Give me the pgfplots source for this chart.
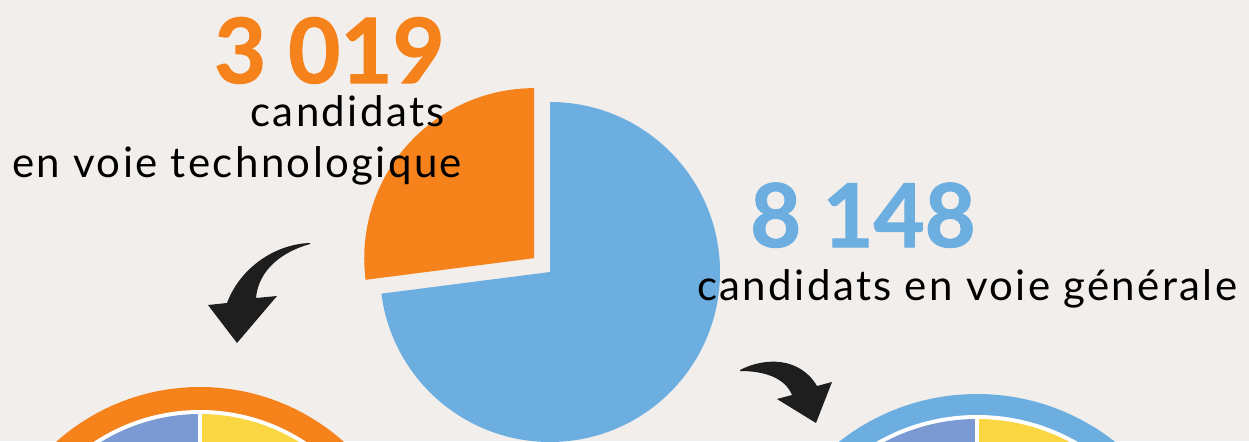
\documentclass[border=0pt]{standalone}
\usepackage{pgfplots}
\pgfplotsset{compat=1.18}
\usepackage{pgfplotstable}
\usepackage{fontspec}
\setmainfont{Lato}
\newfontfamily\txtfont[LetterSpace=5.7]{Lato}
\newfontfamily\numfont[FakeBold=1.2]{Lato Bold}
\definecolor{bg}{HTML}{F1EEEB}
\definecolor{corange}{HTML}{F6821B}
\definecolor{cblue}{HTML}{6CAEE0}
\definecolor{cpurple}{HTML}{7B9AD3}
\definecolor{cyellow}{HTML}{FAD642}
\definecolor{carrow}{HTML}{1E1E1E}
\begin{document}
\begin{tikzpicture}
\pgfplotstableread{
voie valeur
technologique 3019
generale 8148
}\candidats
\pgfplotstablegetelem{0}{valeur}\of\candidats \edef\vtech{\pgfplotsretval}%
\pgfplotstablegetelem{1}{valeur}\of\candidats \edef\vgen{\pgfplotsretval}%
\pgfmathsetmacro\frac{\vtech/(\vtech+\vgen)}%
\pgfmathsetmacro\atech{360*\frac}%
\pgfmathsetmacro\aend{90+\atech}%
\pgfmathsetmacro\aendb{\aend-360}%
\pgfmathsetmacro\amid{90+\atech/2}%
\begin{axis}[
  width=1249bp, height=441bp, scale only axis,
  xmin=0, xmax=1249, ymin=0, ymax=441, y dir=reverse,
  hide axis, clip=true,
]
\fill[bg] (axis cs:0,0) rectangle (axis cs:1249,441);
% main pie
\fill[cblue] (axis cs:550,272) -- ++(90:170bp) arc[start angle=90, end angle=\aendb, radius=170bp] -- cycle;
\fill[corange] ([shift={(\amid:21bp)}]axis cs:550,272) -- ++(90:170bp) arc[start angle=90, end angle=\aend, radius=170bp] -- cycle;
% bottom left donut
\fill[corange] (axis cs:200,603) circle[radius=216bp];
\fill[white] (axis cs:200,603) circle[radius=193bp];
\fill[cpurple] (axis cs:200,603) -- ++(90:189bp) arc[start angle=90, end angle=200, radius=189bp] -- cycle;
\fill[cyellow] (axis cs:200,603) -- ++(90:189bp) arc[start angle=90, end angle=-20, radius=189bp] -- cycle;
\draw[white, line width=4bp] (axis cs:200,603) -- ++(90:193bp);
% bottom right donut
\fill[cblue] (axis cs:977,617) circle[radius=223bp];
\fill[white] (axis cs:977,617) circle[radius=202bp];
\fill[cpurple] (axis cs:977,617) -- ++(90:198bp) arc[start angle=90, end angle=200, radius=198bp] -- cycle;
\fill[cyellow] (axis cs:977,617) -- ++(90:198bp) arc[start angle=90, end angle=-20, radius=198bp] -- cycle;
\draw[white, line width=4bp] (axis cs:977,617) -- ++(90:202bp);
% arrows
\fill[carrow] (axis cs:310,243) .. controls (axis cs:275,244) and (axis cs:240,268) .. (axis cs:227,303)
  -- (axis cs:208,305) -- (axis cs:237,343) -- (axis cs:277,296) -- (axis cs:256,298)
  .. controls (axis cs:258,275) and (axis cs:275,254) .. (axis cs:310,244) -- cycle;
\fill[carrow] (axis cs:740,370) .. controls (axis cs:765,357) and (axis cs:800,357) .. (axis cs:817,386)
  -- (axis cs:832,382) -- (axis cs:816,423) -- (axis cs:777,399) -- (axis cs:792,395)
  .. controls (axis cs:785,378) and (axis cs:765,371) .. (axis cs:740,371) -- cycle;
% texts
\node[anchor=base east, inner sep=0, text depth=0pt, text=corange, font=\fontsize{90bp}{90bp}\numfont] at (axis cs:445,83) {3 019};
\node[anchor=base east, inner sep=0, font=\fontsize{42bp}{42bp}\txtfont] at (axis cs:445,126) {candidats};
\node[anchor=base west, inner sep=0, font=\fontsize{42bp}{42bp}\txtfont] at (axis cs:12,177) {en voie technologique};
\node[anchor=base west, inner sep=0, text depth=0pt, text=cblue, font=\fontsize{88bp}{88bp}\numfont] at (axis cs:750,247) {8 148};
\node[anchor=base west, inner sep=0, font=\fontsize{42bp}{42bp}\txtfont] at (axis cs:697,300) {candidats en voie générale};
\end{axis}
\end{tikzpicture}
\end{document}
